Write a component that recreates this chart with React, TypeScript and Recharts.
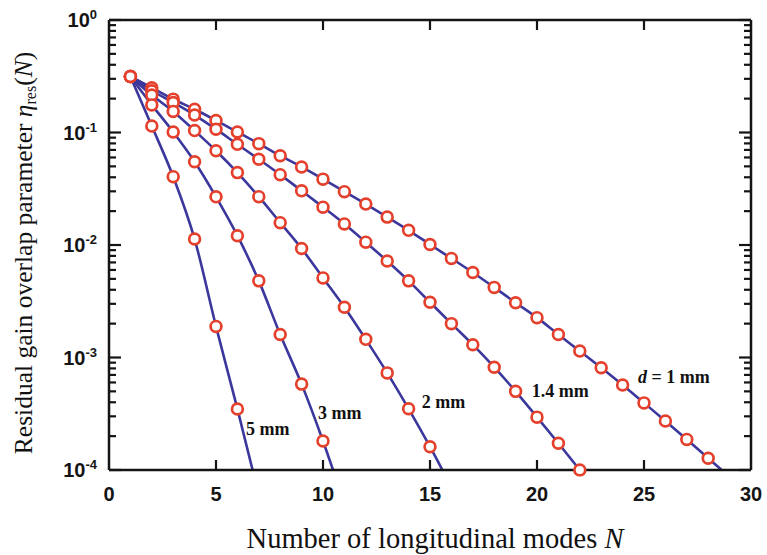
import React from 'react';
import { ComposedChart, Line, XAxis, YAxis, ReferenceDot } from 'recharts';

// Mode numbers N
const modes = [1, 2, 3, 4, 5, 6, 7, 8, 9, 10, 11, 12, 13, 14, 15, 16, 17, 18, 19, 20, 21, 22, 23, 24, 25, 26, 27, 28, 29];

// Residual gain overlap parameter (marker values, starting at N = 1)
const d1mm = [0.315, 0.25, 0.198, 0.161, 0.128, 0.101, 0.0796, 0.0622, 0.0494, 0.0385, 0.0298, 0.0231, 0.0177, 0.0135, 0.0101, 0.0076, 0.0057, 0.0042, 0.00307, 0.00226, 0.0016, 0.00114, 0.00081, 0.00057, 0.000395, 0.000273, 0.000187, 0.000127];
const d14mm = [0.315, 0.235, 0.185, 0.143, 0.107, 0.0785, 0.0578, 0.0422, 0.0303, 0.0217, 0.0154, 0.0106, 0.0072, 0.0048, 0.0031, 0.002, 0.0013, 0.00082, 0.0005, 0.000295, 0.000173, 0.0001];
const d2mm = [0.315, 0.215, 0.154, 0.104, 0.0689, 0.044, 0.0269, 0.0158, 0.0093, 0.0051, 0.0028, 0.00145, 0.00073, 0.00035, 0.000161];
const d3mm = [0.315, 0.176, 0.101, 0.055, 0.0268, 0.0121, 0.0048, 0.0016, 0.00058, 0.000181];
const d5mm = [0.315, 0.114, 0.0405, 0.0113, 0.00189, 0.000349];

// Theory curve continuation one mode beyond the last marker (runs off the axis)
const tails = [8.7e-5, 5.7e-5, 7e-5, 5e-5, 6e-5];

const seriesKeys = ['d1', 'd14', 'd2', 'd3', 'd5'];
const seriesValues = [d1mm, d14mm, d2mm, d3mm, d5mm];

// Curve labels
const labelTexts = ['d = 1 mm', '1.4 mm', '2 mm', '3 mm', '5 mm'];
const labelN = [24.72, 19.75, 14.61, 9.77, 6.4];
const labelV = [5.97e-4, 4.48e-4, 3.56e-4, 2.84e-4, 2.05e-4];

const xTicks = [0, 5, 10, 15, 20, 25, 30];
const xTopTicks = [5, 10, 15, 20, 25];
const yTicks: number[] = [];
[1e-4, 1e-3, 1e-2, 1e-1].forEach((b) => {
  for (let m = 1; m <= 9; m++) yTicks.push(+(b * m).toPrecision(3));
});
yTicks.push(1);

const rows = modes.map((n, i) => {
  const row: any = { n };
  seriesKeys.forEach((k, s) => {
    const vals = seriesValues[s];
    if (i < vals.length) {
      row[k] = vals[i];
      row[k + 'L'] = vals[i];
    } else if (i === vals.length) {
      row[k + 'L'] = tails[s];
    }
  });
  return row;
});

const LINE = '#3b379c';
const RED = '#e4402c';
const AXIS = '#141414';
const SANS = '"Liberation Sans", Arial, Helvetica, sans-serif';
const SERIF = '"Liberation Serif", "Times New Roman", Times, serif';

const isMajor = (v: number) => {
  const l = Math.log10(v);
  return Math.abs(l - Math.round(l)) < 1e-6;
};

const LeftTick = (props: any) => {
  const { x, y, payload } = props;
  const v = payload.value;
  const major = isMajor(v);
  const e = Math.round(Math.log10(v));
  return (
    <g>
      <line x1={x} y1={y} x2={x + (major ? 12 : 7)} y2={y} stroke={AXIS} strokeWidth={2.2} />
      {major && (
        <text x={x - 12} y={y + 7} textAnchor="end" fontFamily={SANS} fontWeight="bold" fontSize={20} fill={AXIS}>
          <tspan>10</tspan>
          <tspan dy={-8} fontSize={13}>{e}</tspan>
        </text>
      )}
    </g>
  );
};

const RightTick = (props: any) => {
  const { x, y, payload } = props;
  const major = isMajor(payload.value);
  return <line x1={x} y1={y} x2={x - (major ? 12 : 7)} y2={y} stroke={AXIS} strokeWidth={2.2} />;
};

const BottomTick = (props: any) => {
  const { x, y, payload } = props;
  const v = payload.value;
  return (
    <g>
      {v > 0 && v < 30 && <line x1={x} y1={y} x2={x} y2={y - 10} stroke={AXIS} strokeWidth={2.2} />}
      <text x={x} y={y + 31} textAnchor="middle" fontFamily={SANS} fontWeight="bold" fontSize={20} fill={AXIS}>
        {v}
      </text>
    </g>
  );
};

const TopTick = (props: any) => {
  const { x, y } = props;
  return <line x1={x} y1={y} x2={x} y2={y + 10} stroke={AXIS} strokeWidth={2.2} />;
};

const renderCurveLabel = (text: string) => (props: any) => {
  const { viewBox } = props;
  const x = viewBox.x;
  const y = viewBox.y;
  const common = { fontFamily: SERIF, fontWeight: 'bold' as const, fontSize: 18, fill: '#111' };
  if (text.startsWith('d')) {
    return (
      <text x={x} y={y} {...common}>
        <tspan fontStyle="italic">d</tspan>
        <tspan>{text.slice(1)}</tspan>
      </text>
    );
  }
  return (
    <text x={x} y={y} {...common}>
      {text}
    </text>
  );
};

const YTitle = () => (
  <text
    x={32}
    y={253}
    transform="rotate(-90, 32, 253)"
    textAnchor="middle"
    fontFamily={SERIF}
    fontSize={25.5}
    fill="#111"
  >
    <tspan>Residual gain overlap parameter </tspan>
    <tspan fontStyle="italic">η</tspan>
    <tspan fontSize={16} dy={4}>res</tspan>
    <tspan dy={-4}>(</tspan>
    <tspan fontStyle="italic">N</tspan>
    <tspan>)</tspan>
  </text>
);

const XTitle = () => (
  <text x={435} y={548} textAnchor="middle" fontFamily={SERIF} fontSize={28.5} fill="#111">
    <tspan>Number of longitudinal modes </tspan>
    <tspan fontStyle="italic">N</tspan>
  </text>
);

export default function App() {
  return (
    <div style={{ position: 'absolute', left: 0, top: 0, width: 767, height: 555, background: '#fff' }}>
      <ComposedChart width={767} height={555} data={rows} margin={{ top: 19, right: 15, bottom: 45, left: 49 }}>
        <XAxis
          xAxisId="bottom"
          dataKey="n"
          type="number"
          domain={[0, 30]}
          ticks={xTicks}
          interval={0}
          height={40}
          tickSize={0}
          tickMargin={0}
          tickLine={false}
          axisLine={{ stroke: AXIS, strokeWidth: 2.5 }}
          tick={BottomTick}
          label={{ content: () => <XTitle /> }}
        />
        <XAxis
          xAxisId="top"
          orientation="top"
          dataKey="n"
          type="number"
          domain={[0, 30]}
          ticks={xTopTicks}
          interval={0}
          height={1}
          tickSize={0}
          tickMargin={0}
          tickLine={false}
          axisLine={{ stroke: AXIS, strokeWidth: 2.5 }}
          tick={TopTick}
        />
        <YAxis
          yAxisId="left"
          type="number"
          scale="log"
          domain={[1e-4, 1]}
          allowDataOverflow
          ticks={yTicks}
          interval={0}
          width={60}
          tickSize={0}
          tickMargin={0}
          tickLine={false}
          axisLine={{ stroke: AXIS, strokeWidth: 2.5 }}
          tick={LeftTick}
          label={{ content: () => <YTitle /> }}
        />
        <YAxis
          yAxisId="right"
          orientation="right"
          type="number"
          scale="log"
          domain={[1e-4, 1]}
          allowDataOverflow
          ticks={yTicks}
          interval={0}
          width={1}
          tickSize={0}
          tickMargin={0}
          tickLine={false}
          axisLine={{ stroke: AXIS, strokeWidth: 2.5 }}
          tick={RightTick}
        />
        {seriesKeys.map((k) => (
          <Line
            key={k + 'L'}
            xAxisId="bottom"
            yAxisId="left"
            dataKey={k + 'L'}
            type="monotone"
            stroke={LINE}
            strokeWidth={2.6}
            dot={false}
            activeDot={false}
            isAnimationActive={false}
          />
        ))}
        {seriesKeys.map((k) => (
          <Line
            key={k}
            xAxisId="bottom"
            yAxisId="left"
            dataKey={k}
            stroke="none"
            dot={{ r: 5.4, fill: '#fff', stroke: RED, strokeWidth: 2.7, clipDot: false } as any}
            activeDot={false}
            isAnimationActive={false}
          />
        ))}
        {labelTexts.map((t, i) => (
          <ReferenceDot
            key={t}
            xAxisId="bottom"
            yAxisId="left"
            x={labelN[i]}
            y={labelV[i]}
            r={0}
            fill="none"
            stroke="none"
            label={{ content: renderCurveLabel(t) } as any}
          />
        ))}
      </ComposedChart>
    </div>
  );
}
